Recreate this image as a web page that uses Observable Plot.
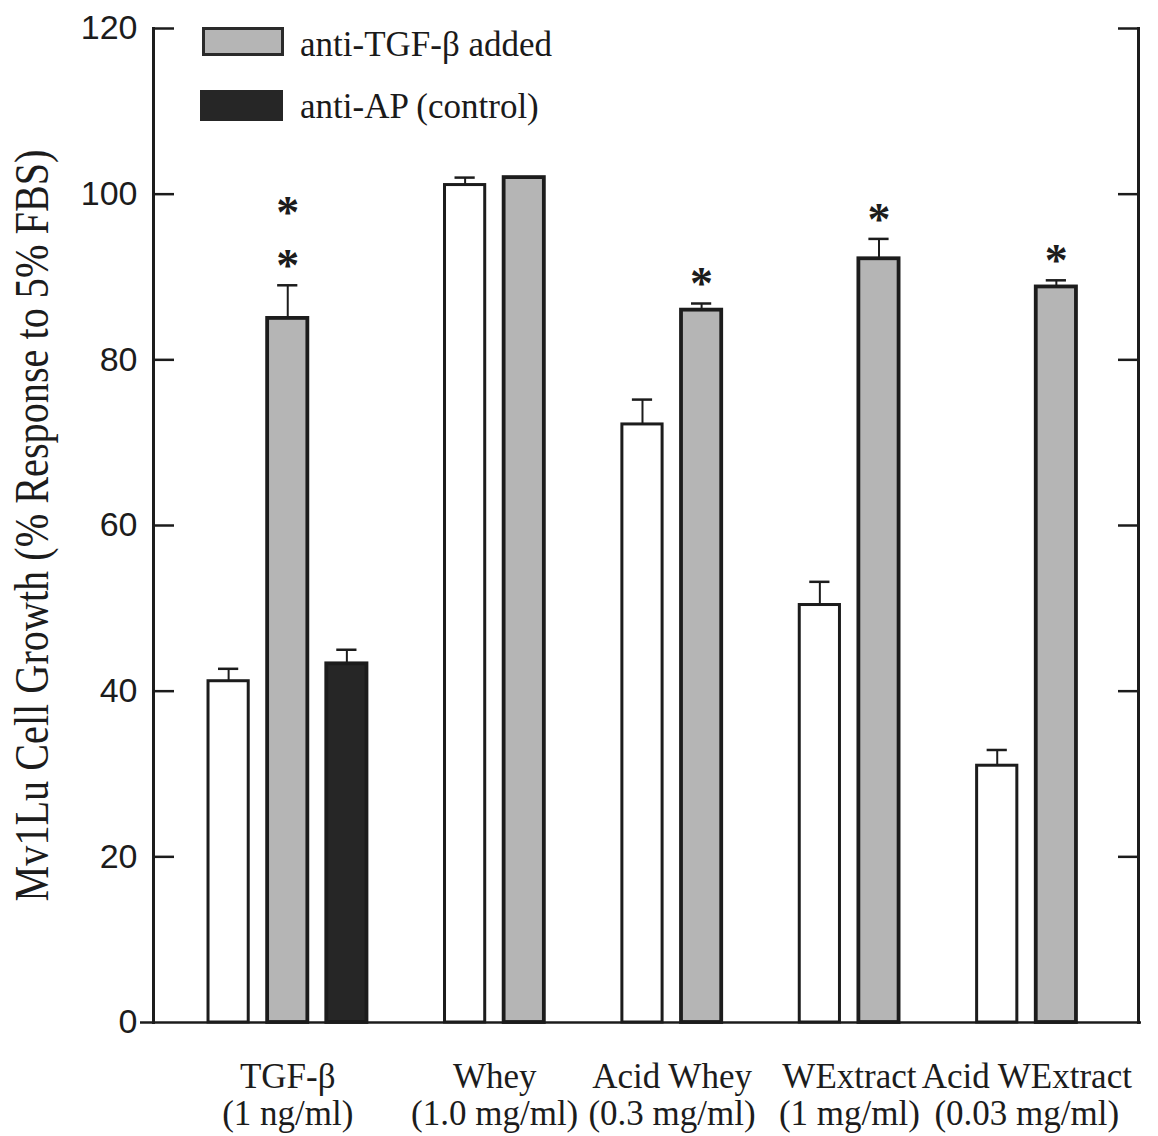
<!DOCTYPE html>
<html>
<head>
<meta charset="utf-8">
<script src="https://cdn.jsdelivr.net/npm/d3@7"></script>
<script src="https://cdn.jsdelivr.net/npm/@observablehq/plot@0.6"></script>
<style>
html, body { margin: 0; padding: 0; background: #fff; overflow: hidden; }
#wrap { position: relative; width: 1158px; height: 1136px; }
#wrap svg { display: block; position: absolute; left: 0; top: 0; }
.lg { position: absolute; box-sizing: border-box; }
.lgtext { position: absolute; font-family: "Liberation Serif", "Times New Roman", serif; font-size: 35px; line-height: 35px; color: #1a1a1a; white-space: nowrap; }
</style>
</head>
<body>
<div id="wrap">
  <div class="lg" style="left:202px;top:27px;width:82px;height:29px;background:#b5b5b5;border:3px solid #2a2a2a;"></div>
  <div class="lgtext" style="left:300px;top:27px;">anti-TGF-β added</div>
  <div class="lg" style="left:200px;top:90px;width:83px;height:31px;background:#262626;"></div>
  <div class="lgtext" style="left:300px;top:89px;">anti-AP (control)</div>
</div>
<script>
// ---- data ----
const categories = ["TGF-β", "Whey", "Acid Whey", "WExtract", "Acid WExtract"];
const doses = ["(1 ng/ml)", "(1.0 mg/ml)", "(0.3 mg/ml)", "(1 mg/ml)", "(0.03 mg/ml)"];
const seriesNames = ["no antibody", "anti-TGF-β added", "anti-AP (control)"];
const noAntibody = [41.2, 101.1, 72.2, 50.4, 31.0];
const noAntibodyErr = [1.5, 0.9, 3.0, 2.8, 1.9];
const antiTGF = [85.0, 102.0, 86.0, 92.2, 88.8];
const antiTGFErr = [4.0, 0, 0.8, 2.4, 0.8];
const antiAP = [43.3, null, null, null, null];
const antiAPErr = [1.7, null, null, null, null];
const significance = [2, 0, 1, 1, 1];
const yTicks = [0, 20, 40, 60, 80, 100, 120];
const yTitle = "Mv1Lu Cell Growth (% Response to 5% FBS)";

// ---- build table ----
const valueSets = [noAntibody, antiTGF, antiAP];
const errSets = [noAntibodyErr, antiTGFErr, antiAPErr];
const rows = [];
const slots = [];
categories.forEach((c, i) => {
  if (i > 0) slots.push("gap-" + i);
  valueSets.forEach((vals, s) => {
    if (vals[i] == null) return;
    const slot = c + "|" + s;
    slots.push(slot);
    rows.push({category: c, series: seriesNames[s], slot, value: vals[i], err: errSets[s][i], top: vals[i] + errSets[s][i]});
  });
});
const starRows = [];
categories.forEach((c, i) => {
  const r = rows.find(d => d.category === c && d.series === seriesNames[1]);
  for (let k = 0; k < significance[i]; k++) starRows.push({slot: r.slot, top: r.top, k});
});

// ---- layout ----
const W = 1158, H = 1136;
const mt = 28, mr = 20, mb = 114, ml = 153;
const frameW = W - ml - mr;
const pInner = 0.32, pOuter = 0.99;
const step = frameW / (slots.length - pInner + 2 * pOuter);

const labelRows = categories.map((c, i) => {
  const s = rows.filter(r => r.category === c).map(r => r.slot);
  return {text: c + "\n" + doses[i], n: s.length, slot: s[Math.floor((s.length - 1) / 2)]};
});

const ink = "#1c1c1c";
const serif = "Liberation Serif, Times New Roman, serif";
const sans = "Liberation Sans, Arial, Helvetica, sans-serif";

const plot = Plot.plot({
  width: W, height: H,
  marginTop: mt, marginRight: mr, marginBottom: mb, marginLeft: ml,
  style: {background: "transparent", color: ink},
  x: {type: "band", domain: slots, paddingInner: pInner, paddingOuter: pOuter, align: 0.47, round: false, axis: null},
  y: {domain: [0, 120]},
  color: {domain: seriesNames, range: ["#ffffff", "#b5b5b5", "#262626"]},
  marks: [
    Plot.barY(rows, {x: "slot", y: "value", fill: "series", stroke: ink, strokeWidth: d => d.series === seriesNames[0] ? 3 : 3.8}),
    Plot.ruleX(rows.filter(d => d.err > 0), {x: "slot", y1: "value", y2: "top", stroke: ink, strokeWidth: 2}),
    Plot.tickY(rows.filter(d => d.err > 0), {x: "slot", y: "top", stroke: ink, strokeWidth: 2.5, insetLeft: 10, insetRight: 10}),
    Plot.text(starRows.filter(d => d.k === 0), {x: "slot", y: "top", text: () => "*", dy: -19, fontSize: 46, fontWeight: "bold", fontFamily: serif, fill: ink}),
    Plot.text(starRows.filter(d => d.k === 1), {x: "slot", y: "top", text: () => "*", dy: -72, fontSize: 46, fontWeight: "bold", fontFamily: serif, fill: ink}),
    Plot.frame({anchor: "left", stroke: ink, strokeWidth: 3}),
    Plot.frame({anchor: "right", stroke: ink, strokeWidth: 3}),
    Plot.ruleY([0], {stroke: ink, strokeWidth: 2.5, insetLeft: -13, insetRight: -3}),
    Plot.tickY(yTicks.filter(t => t > 0), {y: d => d, stroke: ink, strokeWidth: 2.5, insetRight: frameW - 21}),
    Plot.tickY(yTicks.filter(t => t > 0), {y: d => d, stroke: ink, strokeWidth: 2.5, insetLeft: frameW - 20}),
    Plot.axisY(yTicks, {tickSize: 0, tickPadding: 16, fontSize: 34, fontFamily: sans, label: null}),
    Plot.text(labelRows.filter(d => d.n % 2 === 1), {x: "slot", text: "text", frameAnchor: "bottom", lineAnchor: "top", dy: 39, lineHeight: 1.06, fontSize: 35, fontFamily: serif, fill: ink}),
    Plot.text(labelRows.filter(d => d.n % 2 === 0), {x: "slot", text: "text", frameAnchor: "bottom", lineAnchor: "top", dx: step / 2, dy: 39, lineHeight: 1.06, fontSize: 35, fontFamily: serif, fill: ink}),
    Plot.text([yTitle], {frameAnchor: "left", dx: -121, rotate: -90, fontSize: 48, fontFamily: serif, fill: ink})
  ]
});

const wrap = document.getElementById("wrap");
wrap.insertBefore(plot, wrap.firstChild);
const titleLength = 752;
plot.querySelectorAll("text").forEach(t => {
  if (t.textContent === yTitle) {
    t.setAttribute("text-anchor", "start");
    t.setAttribute("x", -titleLength / 2);
    t.setAttribute("textLength", titleLength);
    t.setAttribute("lengthAdjust", "spacingAndGlyphs");
  }
});
</script>
</body>
</html>
